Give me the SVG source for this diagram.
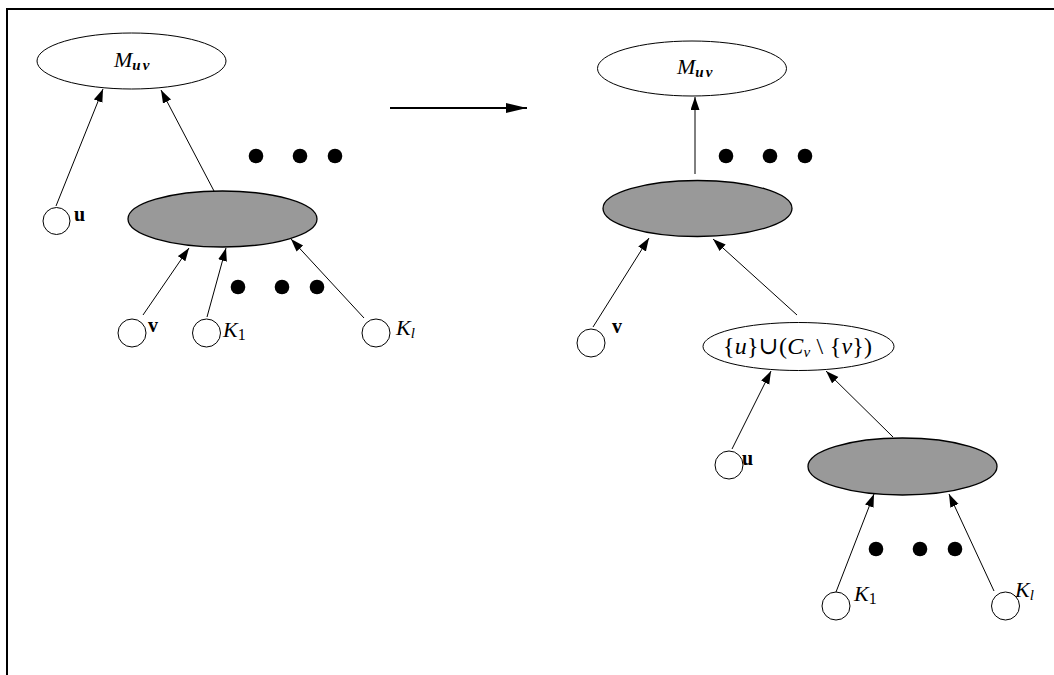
<svg xmlns="http://www.w3.org/2000/svg" width="1054" height="675" viewBox="0 0 1054 675">
<style>
.frame{stroke:#000;stroke-width:2;fill:none}
.wn{fill:#fff;stroke:#000;stroke-width:1}
.gn{fill:#999;stroke:#000;stroke-width:1.3}
.leaf{fill:#fff;stroke:#000;stroke-width:1}
.dot{fill:#000}
.e{stroke:#000;stroke-width:1;fill:none;marker-end:url(#ah)}
.t{font-family:"Liberation Serif","DejaVu Serif",serif;font-size:22px;fill:#000}
.it{font-style:italic}
.sub{font-size:15px;font-style:italic;font-weight:bold}
.lbl{font-family:"Liberation Serif","DejaVu Serif",serif;font-size:20px;font-weight:bold;fill:#000}
</style>
<defs>
<marker id="ah" markerUnits="userSpaceOnUse" markerWidth="14" markerHeight="10" refX="13" refY="4.5" orient="auto">
<path d="M0,0 L13,4.5 L0,9 Z" fill="#000"/>
</marker>
<marker id="bigah" markerUnits="userSpaceOnUse" markerWidth="22" markerHeight="12" refX="21" refY="5" orient="auto">
<path d="M0,0 L21,5 L0,10 Z" fill="#000"/>
</marker>
</defs>
<rect width="1054" height="675" fill="#fff"/>
<path class="frame" d="M7,675 V9 H1054"/>

<g id="connectors">
<line class="e" x1="56" y1="206" x2="103" y2="89"/>
<line class="e" x1="214" y1="191" x2="161" y2="90"/>
<line class="e" x1="143" y1="315" x2="189" y2="248"/>
<line class="e" x1="207" y1="317" x2="226" y2="248"/>
<line class="e" x1="364" y1="318" x2="291" y2="239"/>
<line x1="390" y1="108" x2="527" y2="108" stroke="#000" stroke-width="2" marker-end="url(#bigah)"/>
<line class="e" x1="695" y1="174" x2="695" y2="97"/>
<line class="e" x1="593" y1="327" x2="649" y2="238"/>
<line class="e" x1="797" y1="315" x2="713" y2="239"/>
<line class="e" x1="732" y1="449" x2="771" y2="371"/>
<line class="e" x1="893" y1="437" x2="826" y2="371"/>
<line class="e" x1="836" y1="592" x2="874" y2="494"/>
<line class="e" x1="994" y1="591" x2="949" y2="494"/>
</g>

<g id="left-Muv">
<ellipse class="wn" cx="131.5" cy="61" rx="94.5" ry="28"/>
<text class="t" x="114" y="67"><tspan class="it">M</tspan><tspan class="sub" dy="3" letter-spacing="2">uv</tspan></text>
</g>
<g id="left-gray">
<ellipse class="gn" cx="222.5" cy="219" rx="94.5" ry="28"/>
</g>
<g id="left-u">
<circle class="leaf" cx="56.5" cy="221" r="13.5"/>
<text class="lbl" x="74" y="221">u</text>
</g>
<g id="left-v">
<circle class="leaf" cx="132" cy="333" r="14"/>
<text class="lbl" x="148" y="332">v</text>
</g>
<g id="left-K1">
<circle class="leaf" cx="206.5" cy="333" r="14"/>
<text class="t" x="223" y="337"><tspan class="it">K</tspan><tspan dy="3" font-size="16">1</tspan></text>
</g>
<g id="left-Kl">
<circle class="leaf" cx="376" cy="333" r="14"/>
<text class="t" x="396" y="335"><tspan class="it">K</tspan><tspan class="it" dy="3" font-size="15">l</tspan></text>
</g>
<g id="left-dots">
<circle class="dot" cx="256" cy="156" r="7.3"/>
<circle class="dot" cx="300" cy="156" r="7.3"/>
<circle class="dot" cx="335" cy="156" r="7.3"/>
<circle class="dot" cx="238" cy="287" r="7.3"/>
<circle class="dot" cx="282" cy="287" r="7.3"/>
<circle class="dot" cx="317" cy="287" r="7.3"/>
</g>

<g id="right-Muv">
<ellipse class="wn" cx="692" cy="68.5" rx="94.5" ry="27.5"/>
<text class="t" x="677" y="74"><tspan class="it">M</tspan><tspan class="sub" dy="3" letter-spacing="2">uv</tspan></text>
</g>
<g id="right-gray">
<ellipse class="gn" cx="697.5" cy="208.5" rx="94.5" ry="28"/>
</g>
<g id="right-dots">
<circle class="dot" cx="726" cy="156" r="7.3"/>
<circle class="dot" cx="770" cy="156" r="7.3"/>
<circle class="dot" cx="805" cy="156" r="7.3"/>
<circle class="dot" cx="876" cy="549" r="7.3"/>
<circle class="dot" cx="920" cy="549" r="7.3"/>
<circle class="dot" cx="955" cy="549" r="7.3"/>
</g>
<g id="right-v">
<circle class="leaf" cx="591" cy="343" r="14"/>
<text class="lbl" x="612" y="333">v</text>
</g>
<g id="right-set">
<ellipse class="wn" cx="798.5" cy="346.5" rx="95.5" ry="24"/>
<text class="t" x="723" y="354" style="font-size:24px" textLength="149" lengthAdjust="spacing">{<tspan class="it">u</tspan>}∪(<tspan class="it">C</tspan><tspan class="it" font-size="15" dy="3">v</tspan><tspan dy="-3"> \ {</tspan><tspan class="it">v</tspan>})</text>
</g>
<g id="right-u">
<circle class="leaf" cx="729" cy="465" r="14"/>
<text class="lbl" x="742" y="465">u</text>
</g>
<g id="right-gray2">
<ellipse class="gn" cx="902.5" cy="466.5" rx="94.5" ry="28.5"/>
</g>
<g id="right-K1">
<circle class="leaf" cx="836" cy="606" r="14"/>
<text class="t" x="854" y="601"><tspan class="it">K</tspan><tspan dy="3" font-size="16">1</tspan></text>
</g>
<g id="right-Kl">
<circle class="leaf" cx="1005.5" cy="606" r="14"/>
<text class="t" x="1015" y="597"><tspan class="it">K</tspan><tspan class="it" dy="3" font-size="15">l</tspan></text>
</g>
</svg>
